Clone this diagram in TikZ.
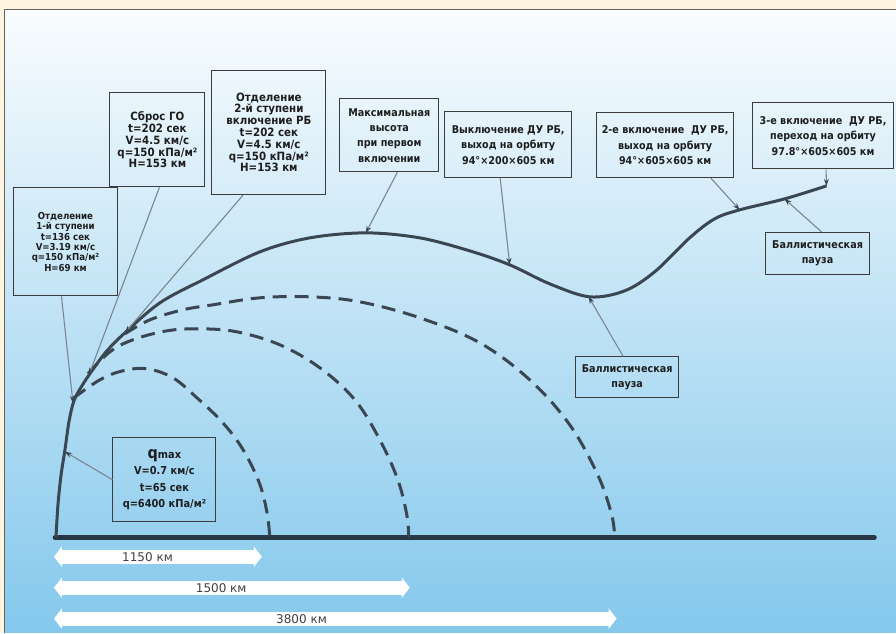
\documentclass[tikz,border=0pt]{standalone}
\usepackage{fontspec}
\setmainfont{DejaVu Sans}
\newfontfamily\boxfont[FakeStretch=0.9]{DejaVu Sans}
\usepackage{tikz}
\usetikzlibrary{arrows.meta}
\definecolor{peach}{RGB}{255,244,222}
\definecolor{skytop}{RGB}{249,252,254}
\definecolor{skymid}{RGB}{212,235,249}
\definecolor{skybot}{RGB}{132,200,236}
\definecolor{track}{RGB}{58,70,82}
\definecolor{ground}{RGB}{40,55,68}
\definecolor{leadgray}{RGB}{122,134,144}
\definecolor{boxline}{RGB}{60,60,60}
\definecolor{ink}{RGB}{30,30,30}

\begin{document}
\begin{tikzpicture}[x=1pt, y=-1pt,
  info/.style={draw=boxline, line width=0.9pt, align=center, inner sep=0pt, text=ink,
               font=\boxfont\bfseries\fontsize{10.7}{15.5}\selectfont},
  stack/.style={info, font=\boxfont\bfseries\fontsize{11.4}{11.8}\selectfont},
  stacksmall/.style={info, font=\boxfont\bfseries\fontsize{9.6}{10.4}\selectfont},
  qbox/.style={info, font=\boxfont\bfseries\fontsize{10.9}{16.5}\selectfont},
  leader/.style={draw=leadgray, line width=1.1pt, -{Stealth[length=7pt,width=5pt,color=track]}},
  fall/.style={draw=track, line width=3pt, dash pattern=on 14pt off 8pt},
  span/.style={draw=white, line width=14pt,
               {Triangle[length=8pt,width=20pt,color=white]}-{Triangle[length=8pt,width=20pt,color=white]}},
  spanlbl/.style={text=ink!85, font=\fontsize{12}{12}\selectfont}]

  % frame and sky
  \fill[peach] (0,0) rectangle (896,633);
  \shade[top color=skytop, middle color=skymid, bottom color=skybot] (5,10) rectangle (896,633);
  \draw[boxline!80, line width=1pt] (5,633) -- (5,10) -- (896,10);

  % ground
  \draw[ground, line width=4.5pt, line cap=round] (55,538) -- (875,538);

  % falling stages
  \draw[fall] plot[smooth, tension=0.6] coordinates {(74,398) (100,380) (123,371) (147,369)
    (173,378) (197,398) (222,422) (242,448) (259,482) (267,512) (270,538)};
  \draw[fall] plot[smooth, tension=0.6] coordinates {(88,374) (110,352) (133,340) (167,331)
    (200,329) (237,332) (280,345) (320,368) (355,400) (380,440) (398,480) (407,515) (409,538)};
  \draw[fall] plot[smooth, tension=0.6] coordinates {(125,334) (150,320) (183,310) (213,305)
    (260,298) (310,297) (360,302) (420,318) (480,343) (530,380) (570,425) (598,475) (612,515) (615,538)};

  % trajectory
  \draw[track, line width=3pt] plot[smooth, tension=0.55] coordinates {(56,538) (58,505) (61,476)
    (65,450) (69,422) (74,401) (82,386) (92,371) (107,351) (125,333) (160,303) (203,280)
    (260,252) (310,238) (366,233) (420,238) (470,251) (510,265) (550,284) (590,297) (625,291)
    (655,272) (690,238) (715,219) (740,210) (785,199) (827,186)};

  % points on the trajectory
  \coordinate (qm)  at (65,452);
  \coordinate (st1) at (73,403);
  \coordinate (go)  at (89,375);
  \coordinate (st2) at (125,333);
  \coordinate (top) at (366,233);
  \coordinate (off) at (510,265);
  \coordinate (bp1) at (589,297);
  \coordinate (on2) at (740,210);
  \coordinate (bp2) at (785,199);
  \coordinate (on3) at (827,186);

  % labels
  \node[stacksmall, minimum width=105pt, minimum height=108pt] (sep1) at (65.5,242)
    {Отделение\\ 1-й ступени\\ t=136 сек\\ V=3.19 км/с\\ q=150 кПа/м²\\ H=69 км};
  \node[stack, minimum width=95pt, minimum height=94pt] (fair) at (157.5,140)
    {Сброс ГО\\ t=202 сек\\ V=4.5 км/с\\ q=150 кПа/м²\\ H=153 км};
  \node[stack, minimum width=114pt, minimum height=125pt] (sep2) at (269,132.5)
    {Отделение\\ 2-й ступени\\ включение РБ\\ t=202 сек\\ V=4.5 км/с\\ q=150 кПа/м²\\ H=153 км};
  \node[info, minimum width=99pt, minimum height=73pt] (hmax) at (389.5,135.5)
    {Максимальная\\ высота\\ при первом\\ включении};
  \node[info, minimum width=127pt, minimum height=66pt] (cut1) at (508.5,145)
    {Выключение ДУ РБ,\\ выход на орбиту\\ 94°×200×605 км};
  \node[info, minimum width=137pt, minimum height=65pt] (burn2) at (665.5,145.5)
    {2-е включение \ ДУ РБ,\\ выход на орбиту\\ 94°×605×605 км};
  \node[info, minimum width=141pt, minimum height=66pt] (burn3) at (823.5,136)
    {3-е включение \ ДУ РБ,\\ переход на орбиту\\ 97.8°×605×605 км};
  \node[info, minimum width=103pt, minimum height=41pt] (pause1) at (627.5,377.5)
    {Баллистическая\\ пауза};
  \node[info, minimum width=104pt, minimum height=42pt] (pause2) at (818,253.5)
    {Баллистическая\\ пауза};
  \node[qbox, minimum width=103pt, minimum height=84pt] (qmax) at (164.5,480)
    {{\fontsize{16}{16}\selectfont q}max\\ V=0.7 км/с\\ t=65 сек\\ q=6400 кПа/м²};

  % leaders
  \draw[leader] ([xshift=-4pt]sep1.south) -- (st1);
  \draw[leader] ([xshift=2pt]fair.south) -- (go);
  \draw[leader] ([xshift=-26pt]sep2.south) -- (st2);
  \draw[leader] ([xshift=8pt]hmax.south) -- (top);
  \draw[leader] ([xshift=-8pt]cut1.south) -- (off);
  \draw[leader] ([xshift=46pt]burn2.south) -- (on2);
  \draw[leader] ([xshift=3pt]burn3.south) -- (on3);
  \draw[leader] ([xshift=-4pt]pause1.north) -- (bp1);
  \draw[leader] ([xshift=4pt]pause2.north) -- (bp2);
  \draw[leader] (qmax.west) -- (qm);

  % ranges
  \coordinate (r0a) at (54,557);  \coordinate (r1) at (262,557);
  \coordinate (r0b) at (54,588);  \coordinate (r2) at (410,588);
  \coordinate (r0c) at (54,619);  \coordinate (r3) at (617,619);
  \draw[span] (r0a) -- node[spanlbl, pos=0.45] {1150 км} (r1);
  \draw[span] (r0b) -- node[spanlbl, pos=0.47] {1500 км} (r2);
  \draw[span] (r0c) -- node[spanlbl, pos=0.44] {3800 км} (r3);
\end{tikzpicture}
\end{document}
